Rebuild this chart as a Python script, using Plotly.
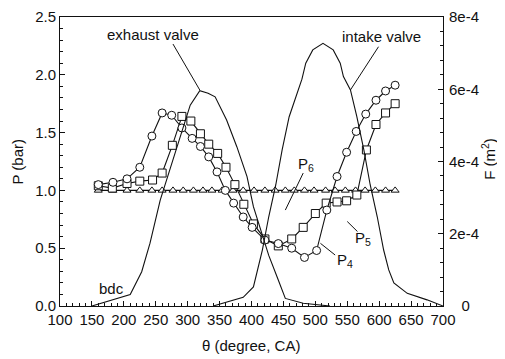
import plotly.graph_objects as go
from plotly.subplots import make_subplots

# ---- data ----
theta_p4 = [160, 183, 205, 225, 244, 260, 275, 291, 307, 320, 333, 346, 359, 372, 387,
            401, 421, 442, 463, 483, 502, 518, 534, 549, 564, 579, 595, 610, 625]
p4 = [1.05, 1.07, 1.10, 1.20, 1.47, 1.67, 1.65, 1.54, 1.45, 1.38, 1.29, 1.16, 1.00, 0.89, 0.77,
      0.68, 0.57, 0.54, 0.50, 0.42, 0.48, 0.83, 1.12, 1.33, 1.51, 1.66, 1.78, 1.86, 1.91]

theta_p5 = [160, 182, 205, 225, 245, 260, 276, 291, 305, 320, 333, 347, 360, 374, 388,
            403, 421, 442, 463, 481, 500, 517, 534, 549, 565, 580, 595, 610, 625]
p5 = [1.04, 1.02, 1.06, 1.08, 1.09, 1.15, 1.39, 1.64, 1.60, 1.49, 1.40, 1.32, 1.20, 1.05, 0.88,
      0.71, 0.58, 0.52, 0.58, 0.68, 0.80, 0.89, 0.90, 0.91, 0.96, 1.35, 1.57, 1.67, 1.75]

theta_p6 = [160, 183, 205, 225, 244, 260, 277, 293, 309, 324, 338, 354, 371, 387, 404,
            421, 437, 453, 467, 483, 498, 516, 531, 547, 563, 578, 594, 610, 625]
p6 = [1.0] * len(theta_p6)

theta_exh = [150, 210, 228, 241, 257, 272, 293, 304, 319, 332, 343, 361, 377, 393, 403,
             419, 427, 440, 453, 481, 502, 523]
f_exh = [0.0, 0.32e-4, 0.95e-4, 1.74e-4, 2.93e-4, 3.76e-4, 4.96e-4, 5.56e-4, 5.96e-4, 5.89e-4,
         5.79e-4, 5.15e-4, 4.41e-4, 3.58e-4, 2.75e-4, 1.83e-4, 1.40e-4, 0.81e-4, 0.21e-4,
         0.075e-4, 0.03e-4, 0.0]

theta_int = [340, 387, 403, 409, 417, 427, 438, 448, 459, 479, 485, 496, 512, 528, 539, 544,
             555, 565, 576, 586, 597, 607, 615, 623, 644, 675, 700]
f_int = [0.0, 0.24e-4, 0.53e-4, 1.0e-4, 1.55e-4, 2.47e-4, 3.35e-4, 4.32e-4, 5.24e-4, 6.28e-4,
         6.72e-4, 7.09e-4, 7.27e-4, 7.09e-4, 6.72e-4, 6.35e-4, 5.98e-4, 5.24e-4, 4.32e-4,
         3.35e-4, 2.47e-4, 1.55e-4, 1.0e-4, 0.64e-4, 0.35e-4, 0.17e-4, 0.0]

f_tickvals = [0, 2e-4, 4e-4, 6e-4, 8e-4]
f_ticktext = ["\u00a0\u00a0\u00a00", "2e-4", "4e-4", "6e-4", "8e-4"]

FONT = "Liberation Sans, Arial, sans-serif"
BLACK = "#111111"

fig = make_subplots(specs=[[{"secondary_y": True}]])

# valve flow areas (right axis)
fig.add_trace(go.Scatter(x=theta_exh, y=f_exh, mode="lines",
                         line=dict(color=BLACK, width=1.1), hoverinfo="skip"),
              secondary_y=True)
fig.add_trace(go.Scatter(x=theta_int, y=f_int, mode="lines",
                         line=dict(color=BLACK, width=1.1), hoverinfo="skip"),
              secondary_y=True)

# pressures (left axis)
fig.add_trace(go.Scatter(x=theta_p6, y=p6, mode="lines+markers",
                         line=dict(color=BLACK, width=1.1),
                         marker=dict(symbol="triangle-up", size=7, color="white",
                                     line=dict(color=BLACK, width=1))),
              secondary_y=False)
fig.add_trace(go.Scatter(x=theta_p5, y=p5, mode="lines+markers",
                         line=dict(color=BLACK, width=1.1),
                         marker=dict(symbol="square", size=8, color="white",
                                     line=dict(color=BLACK, width=1))),
              secondary_y=False)
fig.add_trace(go.Scatter(x=theta_p4, y=p4, mode="lines+markers",
                         line=dict(color=BLACK, width=1.1),
                         marker=dict(symbol="circle", size=8, color="white",
                                     line=dict(color=BLACK, width=1))),
              secondary_y=False)

# labels and leader lines
labels = [
    ("exhaust valve", 246, 2.345),
    ("intake valve", 604, 2.335),
    ("P<sub>6</sub>", 486, 1.22),
    ("P<sub>5</sub>", 574, 0.585),
    ("P<sub>4</sub>", 547, 0.395),
    ("bdc", 181, 0.155),
]
for txt, x, y in labels:
    fig.add_annotation(x=x, y=y, xref="x", yref="y", text=txt, showarrow=False,
                       font=dict(family=FONT, size=15, color=BLACK))

leaders = [
    (277, 2.266, 319, 1.868),
    (599, 2.243, 555, 1.869),
    (481, 1.150, 453, 0.830),
    (550, 0.731, 566, 0.644),
    (508, 0.542, 531, 0.441),
]
for x0, y0, x1, y1 in leaders:
    fig.add_shape(type="line", xref="x", yref="y", x0=x0, y0=y0, x1=x1, y1=y1,
                  line=dict(color=BLACK, width=1))

# axis titles as paper-anchored text
titles = [
    ("θ (degree, CA)", 0.499, -0.135, 0),
    ("P (bar)", -0.112, 0.50, -90),
    ("F (m<sup>2</sup>)", 1.118, 0.51, -90),
]
for txt, x, y, ang in titles:
    fig.add_annotation(x=x, y=y, xref="paper", yref="paper", text=txt, showarrow=False,
                       textangle=ang, xanchor="center", yanchor="middle",
                       font=dict(family=FONT, size=15, color=BLACK))

axis_common = dict(showgrid=False, zeroline=False, showline=True, linecolor=BLACK,
                   linewidth=1, ticks="inside", tickcolor=BLACK, ticklen=5,
                   automargin=False,
                   tickfont=dict(family=FONT, size=15, color=BLACK))

fig.update_xaxes(range=[100, 700], dtick=50, tick0=100, mirror=True, domain=[0, 1],
                 minor=dict(ticks="inside", dtick=10, ticklen=3, tickcolor=BLACK),
                 **axis_common)
fig.update_yaxes(range=[0, 2.5], dtick=0.5, tickformat=".1f",
                 minor=dict(ticks="inside", dtick=0.1, ticklen=3, tickcolor=BLACK),
                 secondary_y=False, **axis_common)
fig.update_yaxes(range=[0, 8e-4], tickvals=f_tickvals, ticktext=f_ticktext,
                 minor=dict(ticks="inside", dtick=0.4e-4, ticklen=3, tickcolor=BLACK),
                 ticklabelstandoff=2,
                 secondary_y=True, **axis_common)

# the page body adds an 8 px offset, margins compensate for it
fig.update_layout(width=505, height=359, margin=dict(l=52, r=70, t=9, b=61),
                  paper_bgcolor="white", plot_bgcolor="white", showlegend=False,
                  font=dict(family=FONT, size=15, color=BLACK))

fig.write_html("out.html")
